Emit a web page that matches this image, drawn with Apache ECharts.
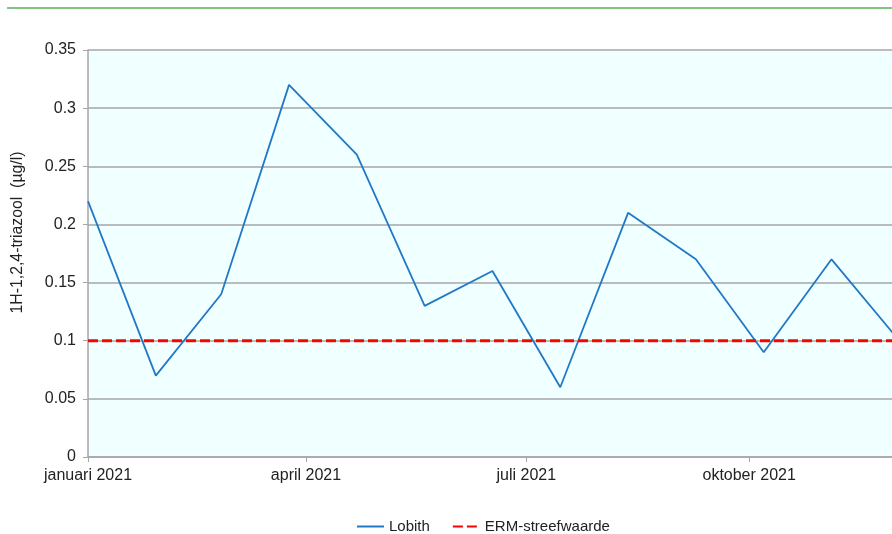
<!DOCTYPE html>
<html>
<head>
<meta charset="utf-8">
<script src="https://cdn.jsdelivr.net/npm/echarts@6/dist/echarts.min.js"></script>
<style>
    html, body {margin: 0; padding: 0; background: #fff; overflow: hidden;}
    /* het diagram loopt rechts door buiten beeld (afgesneden zoals het origineel) */
    #chart {width: 972px; height: 534px;}
</style>
</head>
<body>
<div id="chart"></div>
<script>
// meetdata Lobith
const sampleDates = ['2021-01-01', '2021-01-29', '2021-02-25', '2021-03-25', '2021-04-22', '2021-05-20',
    '2021-06-17', '2021-07-15', '2021-08-12', '2021-09-09', '2021-10-07', '2021-11-04', '2021-12-02'];
const lobith = [0.22, 0.07, 0.14, 0.32, 0.26, 0.13, 0.16, 0.06, 0.21, 0.17, 0.09, 0.17, 0.10];
// streefwaarde
const ermDates = ['2021-01-01', '2022-01-01'];
const ermValues = [0.1, 0.1];
// as-labels
const tickDates = ['2021-01-01', '2021-04-01', '2021-07-01', '2021-10-01'];
const tickLabels = ['januari 2021', 'april 2021', 'juli 2021', 'oktober 2021'];

!function () {
    const ts = s => {
        const p = s.split('-').map(Number);
        return new Date(p[0], p[1] - 1, p[2]).getTime();
    };
    const ticks = tickDates.map(ts);
    const font = 'Liberation Sans, Arial, sans-serif';
    const txt = '#222';
    const grey = '#a6a6a6';

    const chart = echarts.init(document.getElementById('chart'));
    chart.setOption({
        animation: false,
        textStyle: {fontFamily: font},
        graphic: [{
            type: 'line', shape: {x1: 7, y1: 8, x2: 892, y2: 8},
            style: {stroke: '#80c680', lineWidth: 2}
        }],
        grid: {
            left: 88, top: 50, right: 0, bottom: 77,
            show: true, backgroundColor: '#f0ffff', borderWidth: 0
        },
        legend: {
            left: 351, top: 514, itemWidth: 27, itemHeight: 14, itemGap: 22,
            itemStyle: {opacity: 0},
            textStyle: {fontSize: 15, color: txt, fontFamily: font},
            data: ['Lobith', 'ERM-streefwaarde']
        },
        xAxis: {
            type: 'value',
            min: ts(ermDates[0]), max: ts(ermDates[1]),
            axisLine: {lineStyle: {color: grey, width: 1.5}},
            axisTick: {show: true, customValues: ticks, length: 5, lineStyle: {color: grey}},
            axisLabel: {
                customValues: ticks, fontSize: 16, color: txt, margin: 11,
                formatter: v => {
                    const i = ticks.indexOf(v);
                    return i >= 0 ? tickLabels[i] : '';
                }
            },
            splitLine: {show: false}
        },
        yAxis: {
            type: 'value', min: 0, max: 0.35, interval: 0.05,
            name: '1H-1,2,4-triazool  (µg/l)', nameLocation: 'middle', nameGap: 62,
            nameTextStyle: {fontSize: 15.8, color: txt, padding: [0, 0, 0, 42]},
            axisLine: {show: true, lineStyle: {color: grey, width: 1.5}},
            axisTick: {show: true, length: 5, lineStyle: {color: grey}},
            axisLabel: {fontSize: 16, color: txt, margin: 12},
            splitLine: {lineStyle: {color: grey, width: 1.5}}
        },
        series: [{
            name: 'Lobith', type: 'line', symbol: 'none',
            lineStyle: {color: '#2179c6', width: 1.8},
            itemStyle: {color: '#2179c6'},
            data: sampleDates.map((d, i) => [ts(d), lobith[i]])
        }, {
            name: 'ERM-streefwaarde', type: 'line', symbol: 'none',
            lineStyle: {color: '#ff0000', width: 3, type: [10, 4]},
            itemStyle: {color: '#ff0000'},
            data: ermDates.map((d, i) => [ts(d), ermValues[i]])
        }]
    });
}();
</script>
</body>
</html>
